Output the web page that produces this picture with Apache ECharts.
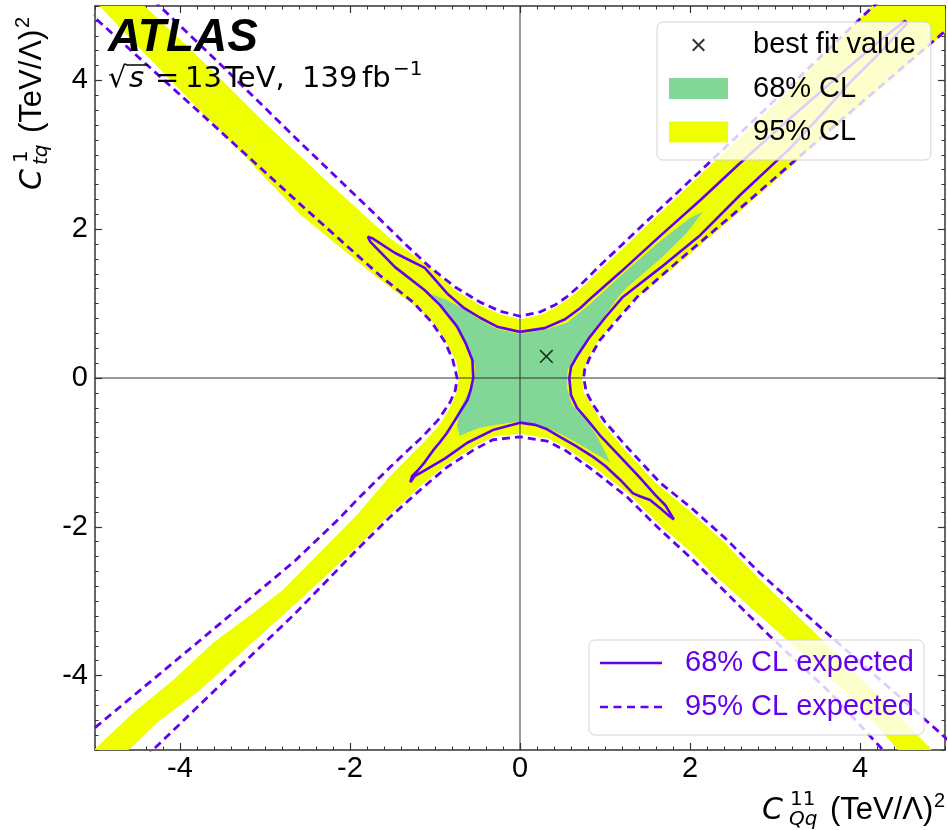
<!DOCTYPE html>
<html><head><meta charset="utf-8">
<script src="https://cdn.jsdelivr.net/npm/echarts@6/dist/echarts.min.js"></script>
<style>html,body{margin:0;padding:0;background:#fff}#c{width:948px;height:830px}</style>
</head><body><div id="c"></div>
<script>
// ---------- data (C_Qq^11 , C_tq^1) ----------
const xTicks = [-4, -2, 0, 2, 4];
const yTicks = [-4, -2, 0, 2, 4];
const bestFit = [[0.31, 0.29]];

// observed 95% CL region (outer boundary of the X)
const obs95Region = [
  [-4.49,5.08],[-3.76,4.29],[-3.04,3.47],[-2.24,2.61],[-1.53,1.88],[-1.08,1.51],[-0.76,1.18],[-0.47,0.98],[-0.24,0.86],[0,0.79],
  [0.24,0.85],[0.41,0.94],[0.55,1.05],[0.71,1.20],[0.94,1.45],[1.41,1.96],[2.12,2.73],[3.06,3.75],[4.21,5.08],[5.2,5.2],[5.18,4.81],
  [5.0,4.64],[3.76,3.41],[2.59,2.24],[1.88,1.55],[1.34,1.05],[1.08,0.73],[0.91,0.48],[0.79,0.24],[0.73,0],
  [0.75,-0.19],[0.84,-0.36],[0.96,-0.59],[1.21,-0.93],[1.60,-1.41],[2.00,-1.79],[2.40,-2.20],[2.79,-2.67],[3.59,-3.56],[4.41,-4.49],[4.94,-5.11],
  [4.53,-5.11],[3.94,-4.33],[3.09,-3.47],[2.27,-2.63],[2.06,-2.39],[1.67,-2.00],[1.28,-1.56],[0.87,-1.20],[0.53,-0.93],[0.32,-0.81],[0,-0.75],
  [-0.32,-0.79],[-0.55,-0.93],[-0.86,-1.16],[-1.14,-1.42],[-1.53,-1.83],[-1.92,-2.27],[-2.24,-2.61],[-2.59,-2.98],[-3.18,-3.59],[-3.76,-4.19],[-4.28,-4.64],[-4.70,-5.11],
  [-5.12,-5.11],[-4.55,-4.50],[-4.08,-4.06],[-3.61,-3.56],[-3.14,-3.16],[-2.79,-2.85],[-2.35,-2.34],[-1.92,-1.84],[-1.53,-1.32],[-1.14,-0.87],[-0.96,-0.65],[-0.82,-0.39],[-0.75,-0.20],[-0.72,0],
  [-0.75,0.22],[-0.85,0.44],[-0.99,0.70],[-1.20,0.94],[-1.44,1.14],[-1.76,1.42],[-2.59,2.20],[-3.29,3.04],[-4.00,3.87],[-4.59,4.57],[-4.94,4.99],[-5.02,5.08]
];

// observed 68% CL region
const obs68Region = [
  [-1.04,1.13],[-0.86,1.05],[-0.67,0.93],[-0.47,0.78],[-0.27,0.66],[0,0.59],[0.29,0.65],[0.55,0.74],[0.82,0.99],[1.18,1.37],[1.65,1.84],[2.00,2.15],[2.15,2.23],
  [1.96,1.95],[1.65,1.60],[1.26,1.22],[1.15,1.08],[0.98,0.81],[0.80,0.55],[0.67,0.31],[0.56,0.11],[0.55,-0.12],[0.61,-0.36],[0.79,-0.58],[0.91,-0.79],[1.00,-0.99],[1.06,-1.14],
  [0.98,-1.08],[0.82,-0.97],[0.65,-0.86],[0.47,-0.75],[0.32,-0.67],[0.12,-0.62],[0,-0.58],[-0.24,-0.62],[-0.47,-0.67],[-0.61,-0.73],[-0.71,-0.78],
  [-0.74,-0.65],[-0.71,-0.43],[-0.64,-0.27],[-0.54,-0.07],[-0.53,0.15],[-0.60,0.35],[-0.68,0.58],[-0.84,0.87],[-0.96,1.02]
];

// expected 68% CL contour (closed)
const exp68Contour = [
  [0,0.62],[0.29,0.67],[0.53,0.79],[0.71,0.94],[0.86,1.10],[1.18,1.42],[1.65,1.91],[2.12,2.39],[2.59,2.89],[3.18,3.49],[3.88,4.19],[4.24,4.54],[4.53,4.80],
  [4.55,4.76],[4.24,4.38],[3.88,3.97],[3.53,3.52],[3.18,3.09],[2.59,2.46],[2.12,1.92],[1.65,1.48],[1.21,1.09],[1.00,0.81],[0.82,0.55],[0.68,0.31],[0.60,0.15],[0.58,0],
  [0.60,-0.23],[0.67,-0.40],[0.79,-0.56],[0.94,-0.77],[1.18,-1.06],[1.41,-1.34],[1.59,-1.57],[1.71,-1.71],[1.81,-1.90],
  [1.74,-1.84],[1.65,-1.75],[1.53,-1.64],[1.41,-1.59],[1.33,-1.55],[1.18,-1.37],[1.00,-1.18],[0.86,-1.06],[0.65,-0.91],[0.47,-0.79],[0.32,-0.69],[0.18,-0.63],[0,-0.60],
  [-0.32,-0.70],[-0.62,-0.87],[-0.88,-1.08],[-1.12,-1.24],[-1.24,-1.32],[-1.29,-1.40],
  [-1.27,-1.32],[-1.20,-1.24],[-1.12,-1.13],[-1.02,-0.97],[-0.94,-0.86],[-0.86,-0.74],[-0.80,-0.63],[-0.74,-0.52],[-0.67,-0.39],[-0.62,-0.30],[-0.58,-0.16],[-0.55,0],
  [-0.56,0.24],[-0.64,0.47],[-0.74,0.69],[-0.94,0.98],[-1.12,1.18],[-1.47,1.49],[-1.76,1.83],[-1.79,1.90],
  [-1.74,1.88],[-1.47,1.68],[-1.12,1.48],[-0.86,1.14],[-0.67,0.95],[-0.47,0.81],[-0.27,0.69],[0,0.62]
];

// expected 95% CL contour, four branches
const exp95Top = [
  [-4.31,5.08],[-4.24,5.00],[-3.41,4.09],[-2.59,3.17],[-1.76,2.26],[-1.35,1.80],[-1.06,1.49],[-0.76,1.22],[-0.47,1.02],[-0.24,0.90],[0,0.83],
  [0.24,0.89],[0.41,0.98],[0.55,1.09],[0.71,1.25],[0.94,1.51],[1.41,2.02],[2.12,2.78],[3.06,3.80],[4.15,4.99],[4.24,5.08]
];
const exp95Right = [
  [5.1,4.76],[5.04,4.70],[3.76,3.45],[2.59,2.28],[1.88,1.59],[1.38,1.09],[1.12,0.75],[0.94,0.51],[0.82,0.27],[0.76,0.11],[0.75,0],
  [0.78,-0.19],[0.86,-0.36],[1.00,-0.59],[1.26,-0.93],[1.65,-1.41],[2.04,-1.77],[2.44,-2.18],[2.82,-2.62],[3.65,-3.47],[4.47,-4.29],[5.04,-4.87],[5.1,-4.94]
];
const exp95Bottom = [
  [-4.4,-5.1],[-4.32,-5.00],[-3.62,-4.23],[-2.65,-3.17],[-1.92,-2.31],[-1.53,-1.87],[-1.14,-1.47],[-0.86,-1.20],[-0.55,-0.97],[-0.32,-0.83],[0,-0.79],
  [0.32,-0.85],[0.53,-0.97],[0.86,-1.24],[1.26,-1.60],[1.65,-2.04],[2.04,-2.45],[2.20,-2.63],[2.94,-3.47],[3.65,-4.23],[4.27,-5.00],[4.35,-5.1]
];
const exp95Left = [
  [-5.1,4.93],[-5.0,4.84],[-3.76,3.56],[-2.59,2.34],[-1.65,1.38],[-1.26,1.02],[-1.04,0.75],[-0.88,0.48],[-0.79,0.24],[-0.74,0],
  [-0.76,-0.16],[-0.82,-0.32],[-0.96,-0.56],[-1.14,-0.78],[-1.53,-1.20],[-1.92,-1.64],[-2.12,-1.88],[-2.65,-2.46],[-3.82,-3.58],[-5.0,-4.70],[-5.1,-4.79]
];

const zeroV = [[0,-5],[0,5]];
const zeroH = [[-5,0],[5,0]];

// ---------- styles ----------
const YELLOW = '#efff00';
const GREEN = '#82d696';
const PURPLE = '#6400ee';
const FRAME = '#333';
const SANS = 'Liberation Sans, Arial, Helvetica, sans-serif';
const MATH = 'DejaVu Sans, sans-serif';
const CROSS = 'path://M0,0M20,20M4.5,4.5L15.5,15.5M15.5,4.5L4.5,15.5';
const ICON_SOLID = 'path://M0,0H62V2.6H0Z';
const ICON_DASH = 'path://M0,0H8V2.6H0ZM13.5,0H21.5V2.6H13.5ZM27,0H35V2.6H27ZM40.5,0H48.5V2.6H40.5ZM54,0H62V2.6H54Z';

function polySeries(name, pts, color, z) {
  return {
    type: 'custom', name: name, coordinateSystem: 'cartesian2d', xAxisIndex: 0, yAxisIndex: 0,
    data: [[0, 0]], clip: true, z: z, silent: true, itemStyle: { color: color },
    renderItem: function (params, api) {
      return { type: 'polygon', shape: { points: pts.map(function (p) { return api.coord(p); }) }, style: { fill: color } };
    }
  };
}
function lineSeries(name, pts, lineType, color, width, z) {
  return {
    type: 'line', name: name, data: pts, xAxisIndex: 0, yAxisIndex: 0, symbol: 'none', showSymbol: false,
    smooth: false, clip: true, z: z, silent: true,
    lineStyle: { color: color, width: width, type: lineType }, itemStyle: { color: color }
  };
}

const axisBase = { type: 'value', min: -5, max: 5, splitLine: { show: false },
  axisLine: { show: true, onZero: false, lineStyle: { color: FRAME, width: 1.5 } } };
function minorAxis(pos, labels, ticks) {
  return Object.assign({}, axisBase, {
    position: pos, interval: 0.2,
    axisTick: { show: true, inside: true, length: 3.5, lineStyle: { color: FRAME, width: 1 } },
    axisLabel: labels ? { show: true, customValues: ticks, fontSize: 29, fontFamily: SANS, color: '#000', margin: pos === 'bottom' ? 4 : 7 } : { show: false }
  });
}
function majorAxis(pos, ticks) {
  return Object.assign({}, axisBase, {
    position: pos, axisLine: { show: false, onZero: false },
    axisTick: { show: true, inside: true, length: 7, customValues: ticks, lineStyle: { color: FRAME, width: 1.2 } },
    axisLabel: { show: false }
  });
}

// text helpers (baseline positioning)
function txt(s, x, base, size, opt) {
  opt = opt || {};
  return { type: 'text', x: x, y: base - 0.3 * size, silent: true, z: 100,
    style: { text: s, fontSize: size, fontFamily: opt.family || SANS, fontStyle: opt.italic ? 'italic' : 'normal',
      fontWeight: opt.bold ? 'bold' : 'normal', fill: '#000', align: 'left', verticalAlign: 'middle' } };
}
function axisTitle(x, y, rot, sup, sub, supX, subX, unitX, sqX) {
  return { type: 'group', x: x, y: y, rotation: rot, z: 100, children: [
    txt('C', 0, 0, 30, { italic: true, family: MATH }),
    txt(sup, supX, -14, 20, { family: MATH }),
    txt(sub, subX, 6, 20, { italic: true, family: MATH }),
    txt('(TeV/Λ)', unitX, 0, 31),
    txt('2', sqX, -13, 20)
  ] };
}

const option = {
  animation: false,
  backgroundColor: '#fff',
  grid: { left: 95, right: 3, top: 6, bottom: 80 },
  xAxis: [minorAxis('bottom', true, xTicks), majorAxis('bottom', xTicks), minorAxis('top', false), majorAxis('top', xTicks)],
  yAxis: [minorAxis('left', true, yTicks), majorAxis('left', yTicks), minorAxis('right', false), majorAxis('right', yTicks)],
  legend: [
    { data: [{ name: 'best fit value' }, { name: '68% CL', icon: 'rect' }, { name: '95% CL', icon: 'rect' }],
      orient: 'vertical', left: 657, top: 22, itemWidth: 59, itemHeight: 21, itemGap: 13.5,
      padding: [8, 15, 13, 12], backgroundColor: 'rgba(255,255,255,0.8)', borderColor: '#d4d4d4', borderWidth: 1, borderRadius: 6,
      selectedMode: false, z: 20,
      textStyle: { fontSize: 29, fontFamily: SANS, color: '#000', lineHeight: 30, padding: [0, 0, 0, 20] } },
    { data: [{ name: '68% CL expected', icon: ICON_SOLID }, { name: '95% CL expected', icon: ICON_DASH }],
      orient: 'vertical', left: 589, top: 640, itemWidth: 62, itemHeight: 14, itemGap: 14,
      padding: [8, 10, 13, 11], backgroundColor: 'rgba(255,255,255,0.8)', borderColor: '#d4d4d4', borderWidth: 1, borderRadius: 6,
      selectedMode: false, z: 20, itemStyle: { color: PURPLE, borderWidth: 0 },
      textStyle: { fontSize: 29, fontFamily: SANS, color: PURPLE, lineHeight: 30, padding: [0, 0, 0, 18] } }
  ],
  series: [
    polySeries('95% CL', obs95Region, YELLOW, 1),
    polySeries('68% CL', obs68Region, GREEN, 2),
    lineSeries('zeroV', zeroV, 'solid', '#333', 1, 3),
    lineSeries('zeroH', zeroH, 'solid', '#333', 1, 3),
    lineSeries('95% CL expected', exp95Top, [8, 5], PURPLE, 2.8, 4),
    lineSeries('95% CL expected', exp95Right, [8, 5], PURPLE, 2.8, 4),
    lineSeries('95% CL expected', exp95Bottom, [8, 5], PURPLE, 2.8, 4),
    lineSeries('95% CL expected', exp95Left, [8, 5], PURPLE, 2.8, 4),
    lineSeries('68% CL expected', exp68Contour, 'solid', PURPLE, 2.6, 5),
    { type: 'scatter', name: 'best fit value', data: bestFit, symbol: CROSS, symbolSize: 23, z: 6, silent: true,
      itemStyle: { color: 'rgba(0,0,0,0)', borderColor: '#000', borderWidth: 1.5 } }
  ],
  graphic: [
    txt('ATLAS', 108, 52, 46, { bold: true, italic: true }),
    txt('√', 108, 88, 29, { family: MATH }),
    { type: 'line', silent: true, z: 100, shape: { x1: 126, y1: 65, x2: 148, y2: 65 }, style: { stroke: '#000', lineWidth: 1.5 } },
    txt('s', 129, 88, 29, { italic: true, family: MATH }),
    txt('=', 155, 88, 29, { family: MATH }),
    txt('13', 185, 88, 29, { family: MATH }),
    txt('TeV,', 225, 88, 29, { family: MATH }),
    txt('139', 302, 88, 29, { family: MATH }),
    txt('fb', 362, 88, 29, { family: MATH }),
    txt('−1', 393, 76, 20, { family: MATH }),
    axisTitle(762, 820, 0, '11', 'Qq', 28, 27, 68, 172),
    axisTitle(42, 190, Math.PI / 2, '1', 'tq', 27, 25, 57, 162)
  ]
};
const chart = echarts.init(document.getElementById('c'), null, { renderer: 'canvas' });
chart.setOption(option);
</script>
</body></html>
